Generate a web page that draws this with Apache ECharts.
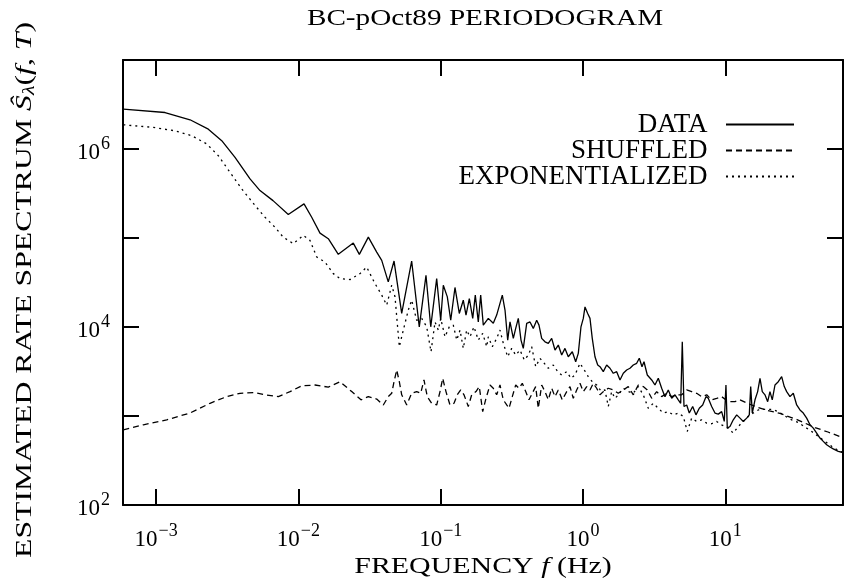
<!DOCTYPE html>
<html>
<head>
<meta charset="utf-8">
<script src="https://cdn.jsdelivr.net/npm/echarts@6/dist/echarts.min.js"></script>
<style>html,body{margin:0;padding:0;background:#fff}#c{width:845px;height:585px}</style>
</head>
<body>
<div id="c"></div>
<script>
// ---- data (frequency in Hz, spectrum values) ----
const dataFreq = [5.88e-4,1.155e-3,1.731e-3,2.327e-3,2.891e-3,3.585e-3,4.57e-3,5.37e-3,6.63e-3,8.49e-3,
1.095e-2,1.24e-2,1.418e-2,1.622e-2,1.907e-2,2.43e-2,2.68e-2,3.10e-2,3.55e-2,3.85e-2,
4.28e-2,4.70e-2,5.32e-2,6.25e-2,7.07e-2,7.88e-2,8.51e-2,9.37e-2,0.100,0.1043,
0.1113,0.1176,0.1260,0.1351,0.1441,0.1506,0.1589,0.1679,0.1750,0.1837,
0.1910,0.1992,0.2160,0.2342,0.2474,0.2610,0.2710,0.2831,0.2957,0.3069,
0.3238,0.3366,0.3510,0.3667,0.3806,0.4021,0.4242,0.4474,0.4727,0.4906,
0.5125,0.5408,0.5705,0.6026,0.6357,0.6706,0.7084,0.7472,0.7882,0.8412,
0.8886,0.9268,0.968,1.005,1.033,1.079,1.120,1.162,1.214,1.269,
1.317,1.389,1.467,1.548,1.633,1.725,1.820,1.920,2.028,2.139,
2.257,2.384,2.487,2.598,2.684,2.831,3.040,3.206,3.382,3.573,
3.769,3.976,4.201,4.432,4.675,4.860,4.987,5.127,5.356,5.585,
5.901,6.224,6.566,6.937,7.317,7.594,8.023,8.465,8.930,9.434,
9.84,10.11,10.33,10.79,11.38,12.03,12.69,13.38,14.14,14.75,
15.09,15.48,16.18,16.89,17.54,18.20,19.01,19.86,20.61,21.39,
22.35,23.58,24.91,25.98,27.01,28.49,30.06,31.76,33.50,35.34,
37.33,39.38,41.54,43.89,46.29,48.84,51.60,54.42,57.41,62.25,67.16];
const dataVals = [2.81e6,2.57e6,2.13e6,1.67e6,1.24e6,8.05e5,4.61e5,3.41e5,2.63e5,1.84e5,
2.42e5,1.71e5,1.135e5,9.82e4,6.55e4,8.77e4,6.55e4,1.023e5,6.95e4,5.61e4,
3.21e4,5.51e4,1.42e4,5.51e4,1.005e4,3.81e4,1.005e4,3.50e4,1.19e4,2.95e4,
2.18e4,1.19e4,2.78e4,1.42e4,2.00e4,1.36e4,2.09e4,1.25e4,2.28e4,1.14e4,
2.28e4,1.05e4,1.25e4,1.10e4,1.36e4,1.84e4,2.28e4,1.55e4,7.13e3,1.14e4,
7.45e3,9.64e3,1.25e4,7.13e3,5.75e3,1.10e4,1.14e4,9.64e3,1.19e4,1.05e4,
7.45e3,6.82e3,6.55e3,7.45e3,5.51e3,6.27e3,4.84e3,5.75e3,4.63e3,5.27e3,
4.07e3,5.06e3,1.005e4,1.25e4,1.68e4,1.42e4,1.25e4,7.45e3,4.63e3,3.74e3,
3.58e3,3.15e3,3.74e3,3.44e3,3.02e3,3.15e3,2.54e3,3.02e3,3.29e3,3.44e3,
3.74e3,3.91e3,4.45e3,3.58e3,4.07e3,2.89e3,2.54e3,2.23e3,2.65e3,2.05e3,
1.65e3,1.96e3,1.58e3,1.73e3,1.52e3,1.39e3,6.82e3,1.28e3,1.33e3,1.08e3,
1.28e3,1.03e3,1.22e3,1.33e3,1.65e3,1.58e3,1.28e3,1.08e3,1.05e3,1.12e3,
869,2.23e3,731,762,906,1.03e3,946,869,946,1.03e3,
2.14e3,1.08e3,1.52e3,1.88e3,2.65e3,1.88e3,1.73e3,1.45e3,1.88e3,1.52e3,
2.23e3,2.43e3,2.77e3,2.14e3,1.88e3,1.65e3,1.80e3,1.33e3,1.17e3,1.08e3,
946,796,731,643,565,519,476,449,427,401,389];

const shufFreq = [5.88e-4,8.13e-4,1.187e-3,1.731e-3,2.392e-3,3.134e-3,3.887e-3,4.955e-3,5.826e-3,7.224e-3,
8.73e-3,1.055e-2,1.308e-2,1.622e-2,1.960e-2,2.369e-2,2.754e-2,3.10e-2,3.55e-2,3.950e-2,
4.28e-2,4.525e-2,4.70e-2,4.908e-2,5.118e-2,5.32e-2,5.77e-2,6.25e-2,6.78e-2,7.235e-2,
7.63e-2,8.05e-2,8.64e-2,9.37e-2,9.89e-2,0.1033,0.1089,0.1162,0.1240,0.1308,
0.1382,0.1458,0.1563,0.1651,0.1770,0.1867,0.1973,0.2081,0.2220,0.2342,
0.2474,0.2610,0.2754,0.2910,0.3020,0.3185,0.3366,0.3550,0.3745,0.3957,
0.4173,0.4402,0.4651,0.4851,0.5125,0.5408,0.5705,0.6026,0.6357,0.6706,
0.7152,0.7682,0.8102,0.8547,0.9031,0.9526,1.005,1.062,1.120,1.181,
1.248,1.317,1.389,1.506,1.633,1.770,1.920,2.081,2.257,2.447,
2.653,2.831,3.040,3.296,3.573,3.874,4.201,4.554,4.939,5.356,
5.806,6.295,6.826,7.401,8.023,8.701,9.434,10.50,11.70,12.69,
14.44,16.70,19.95,24.23,31.91,42.71,52.69,67.16];
const shufVals = [700,796,906,1.08e3,1.39e3,1.65e3,1.80e3,1.83e3,1.73e3,1.65e3,
1.88e3,2.18e3,2.23e3,2.11e3,2.43e3,1.88e3,1.52e3,1.65e3,1.55e3,1.33e3,
1.65e3,1.80e3,2.43e3,3.29e3,2.43e3,1.73e3,1.33e3,1.80e3,1.88e3,1.80e3,
2.54e3,1.65e3,1.39e3,1.33e3,1.88e3,2.65e3,1.88e3,1.33e3,1.39e3,1.73e3,
1.96e3,1.73e3,1.28e3,1.73e3,1.88e3,2.14e3,1.12e3,1.58e3,2.23e3,2.05e3,
1.73e3,2.23e3,1.52e3,1.33e3,1.22e3,1.65e3,2.23e3,2.05e3,2.33e3,1.88e3,
1.52e3,1.80e3,2.14e3,1.22e3,2.23e3,1.88e3,1.52e3,2.05e3,1.65e3,1.96e3,
1.52e3,1.88e3,2.14e3,1.58e3,1.96e3,2.33e3,1.88e3,2.14e3,1.96e3,2.33e3,
2.05e3,1.73e3,1.88e3,2.05e3,1.96e3,1.80e3,1.96e3,2.14e3,1.73e3,2.23e3,
2.14e3,1.96e3,1.58e3,1.88e3,1.65e3,1.80e3,1.65e3,1.73e3,1.73e3,1.96e3,
1.88e3,1.80e3,1.65e3,1.73e3,1.52e3,1.58e3,1.65e3,1.45e3,1.45e3,1.52e3,
1.38e3,1.26e3,1.15e3,1.07e3,912,741,661,569];

const expoFreq = [5.88e-4,9.56e-4,1.358e-3,1.779e-3,2.268e-3,2.736e-3,3.306e-3,3.995e-3,4.955e-3,5.826e-3,
6.848e-3,7.83e-3,9.21e-3,1.082e-2,1.206e-2,1.345e-2,1.538e-2,1.759e-2,1.960e-2,2.305e-2,
2.709e-2,3.02e-2,3.274e-2,3.454e-2,3.85e-2,4.174e-2,4.525e-2,4.774e-2,5.118e-2,5.46e-2,
5.92e-2,6.25e-2,6.78e-2,7.35e-2,7.97e-2,8.55e-2,9.12e-2,9.62e-2,0.100,0.1072,
0.1149,0.1226,0.1296,0.1367,0.1441,0.1523,0.1606,0.1714,0.1837,0.1973,
0.2105,0.2160,0.2305,0.2474,0.2610,0.2754,0.2957,0.3154,0.3366,0.3608,
0.3868,0.4127,0.4360,0.4651,0.4986,0.5346,0.5705,0.6185,0.6642,0.7084,
0.7682,0.8234,0.8786,0.9526,1.021,1.089,1.162,1.248,1.338,1.427,
1.506,1.591,1.679,1.770,1.920,2.081,2.257,2.447,2.653,2.876,
3.119,3.382,3.667,3.976,4.311,4.675,5.069,5.408,5.806,6.295,
6.826,7.401,8.023,8.701,9.434,10.50,11.38,12.34,13.38,14.51,
15.73,17.06,19.01,21.19,23.58,26.28,29.29,32.58,36.32,40.48,
45.04,50.19,55.94,62.25,67.16];
const expoVals = [1.87e6,1.75e6,1.60e6,1.41e6,1.14e6,8.41e5,5.47e5,3.56e5,2.32e5,1.71e5,
1.32e5,1.02e5,8.63e4,1.07e5,9.40e4,6.11e4,5.37e4,3.98e4,3.50e4,3.41e4,
3.98e4,4.72e4,3.63e4,3.08e4,2.28e4,1.76e4,2.95e4,2.18e4,6.00e3,9.23e3,
1.55e4,2.00e4,1.19e4,1.25e4,1.005e4,5.27e3,1.14e4,9.23e3,1.25e4,7.76e3,
1.005e4,1.05e4,7.13e3,9.23e3,5.75e3,9.23e3,7.76e3,1.005e4,7.13e3,8.47e3,
6.00e3,7.76e3,6.00e3,7.45e3,9.23e3,6.55e3,4.63e3,5.75e3,4.84e3,5.51e3,
4.26e3,4.84e3,6.00e3,3.58e3,4.45e3,3.91e3,3.44e3,3.74e3,3.15e3,2.89e3,
3.15e3,2.65e3,2.89e3,3.91e3,3.29e3,2.77e3,2.43e3,2.23e3,1.91e3,1.96e3,
1.28e3,1.88e3,1.58e3,1.73e3,2.05e3,1.88e3,1.80e3,2.14e3,1.73e3,1.22e3,
1.39e3,1.22e3,1.08e3,1.12e3,1.03e3,1.08e3,989,671,946,869,
906,832,818,869,796,731,643,762,869,989,
1.08e3,1.17e3,1.19e3,1.19e3,1.12e3,1.00e3,906,845,752,671,
589,519,456,411,389];

// axis ranges and tick labels
const xMin = 5.85e-4, xMax = 67.2;
const yMin = 1e2, yMax = 1e7;
const xTickExps = [-3, -2, -1, 0, 1];
const yLabelExps = [2, 4, 6];

const seriesNames = ['DATA', 'SHUFFLED', 'EXPONENTIALIZED'];

function zip(a, b) { return a.map((v, i) => [v, b[i]]); }
function expOf(v) { return Math.log10(v); }
function isDecade(v) { const e = expOf(v); return Math.abs(e - Math.round(e)) < 1e-6; }
function supLabel(e) { return '{b|10}{s|' + String(e).replace('-', '\u2212') + '}'; }

const FONT = '"Liberation Serif", "Times New Roman", serif';
const labelRich = {
  b: { fontFamily: FONT, fontSize: 23, color: '#000', verticalAlign: 'bottom', lineHeight: 30 },
  s: { fontFamily: FONT, fontSize: 18, color: '#000', verticalAlign: 'bottom', padding: [0, 0, 11, 1], lineHeight: 30 }
};
const tickStyle = { show: true, inside: true, length: 16, lineStyle: { color: '#000', width: 2 } };
const lineStyleAxis = { show: true, lineStyle: { color: '#000', width: 2 } };

const chart = echarts.init(document.getElementById('c'), null, { renderer: 'canvas' });

const option = {
  animation: false,
  backgroundColor: '#fff',
  grid: { left: 123, right: 2, top: 60, bottom: 80, containLabel: false },
  xAxis: [
    {
      type: 'log', logBase: 10, min: xMin, max: xMax, position: 'bottom',
      axisLine: lineStyleAxis, axisTick: tickStyle, splitLine: { show: false }, minorTick: { show: false },
      axisLabel: {
        margin: 16, showMinLabel: false, showMaxLabel: false, rich: labelRich,
        formatter: v => { if (!isDecade(v)) return ''; const e = Math.round(expOf(v)); return xTickExps.includes(e) ? supLabel(e) : ''; }
      }
    },
    {
      type: 'log', logBase: 10, min: xMin, max: xMax, position: 'top',
      axisLine: lineStyleAxis, axisTick: tickStyle, splitLine: { show: false }, axisLabel: { show: false }
    }
  ],
  yAxis: [
    {
      type: 'log', logBase: 10, min: yMin, max: yMax, position: 'left',
      axisLine: lineStyleAxis, axisTick: tickStyle, splitLine: { show: false }, minorTick: { show: false },
      axisLabel: {
        margin: 13, rich: labelRich,
        formatter: v => { if (!isDecade(v)) return ''; const e = Math.round(expOf(v)); return yLabelExps.includes(e) ? supLabel(e) : ''; }
      }
    },
    {
      type: 'log', logBase: 10, min: yMin, max: yMax, position: 'right',
      axisLine: lineStyleAxis, axisTick: tickStyle, splitLine: { show: false }, axisLabel: { show: false }
    }
  ],
  legend: seriesNames.map((n, i) => ({
    data: [n], right: 50, top: 111 + i * 26, align: 'right', orient: 'horizontal',
    itemWidth: 68, itemHeight: 26, padding: 0, selectedMode: false,
    formatter: name => name + '  ',
    itemStyle: { opacity: 0, color: 'rgba(0,0,0,0)', borderWidth: 0 },
    lineStyle: { opacity: 1 },
    textStyle: { fontFamily: FONT, fontSize: 27, color: '#000' }
  })),
  graphic: [
    { type: 'text', x: 485, y: 19, scaleX: 1.27, style: { text: 'BC-pOct89 PERIODOGRAM', font: '23px ' + FONT, fill: '#000', align: 'center', verticalAlign: 'middle' } },
    { type: 'text', x: 483, y: 567, scaleX: 1.3, style: {
        text: 'FREQUENCY {i|f} (Hz)', font: '23px ' + FONT, fill: '#000', align: 'center', verticalAlign: 'middle',
        rich: { i: { font: 'italic 23px ' + FONT, fill: '#000' } } } },
    { type: 'text', x: 25, y: 290, rotation: Math.PI / 2, scaleX: 1.38, style: {
        text: 'ESTIMATED RATE SPECTRUM {i|Ŝ}{sub|λ}({i|f}, {i|T})', font: '23px ' + FONT, fill: '#000', align: 'center', verticalAlign: 'middle',
        rich: { i: { font: 'italic 23px ' + FONT, fill: '#000' }, sub: { font: 'italic 16px ' + FONT, fill: '#000', padding: [10, 0, 0, 0] } } } }
  ],
  series: [
    { name: 'DATA', type: 'line', xAxisIndex: 0, yAxisIndex: 0, showSymbol: false, symbol: 'none',
      data: zip(dataFreq, dataVals), lineStyle: { color: '#000', width: 1.3, type: 'solid' }, itemStyle: { color: '#000' } },
    { name: 'SHUFFLED', type: 'line', xAxisIndex: 0, yAxisIndex: 0, showSymbol: false, symbol: 'none',
      data: zip(shufFreq, shufVals), lineStyle: { color: '#000', width: 1.3, type: [6, 4] }, itemStyle: { color: '#000' } },
    { name: 'EXPONENTIALIZED', type: 'line', xAxisIndex: 0, yAxisIndex: 0, showSymbol: false, symbol: 'none',
      data: zip(expoFreq, expoVals), lineStyle: { color: '#000', width: 1.3, type: [2, 4] }, itemStyle: { color: '#000' } }
  ]
};
chart.setOption(option);
</script>
</body>
</html>
